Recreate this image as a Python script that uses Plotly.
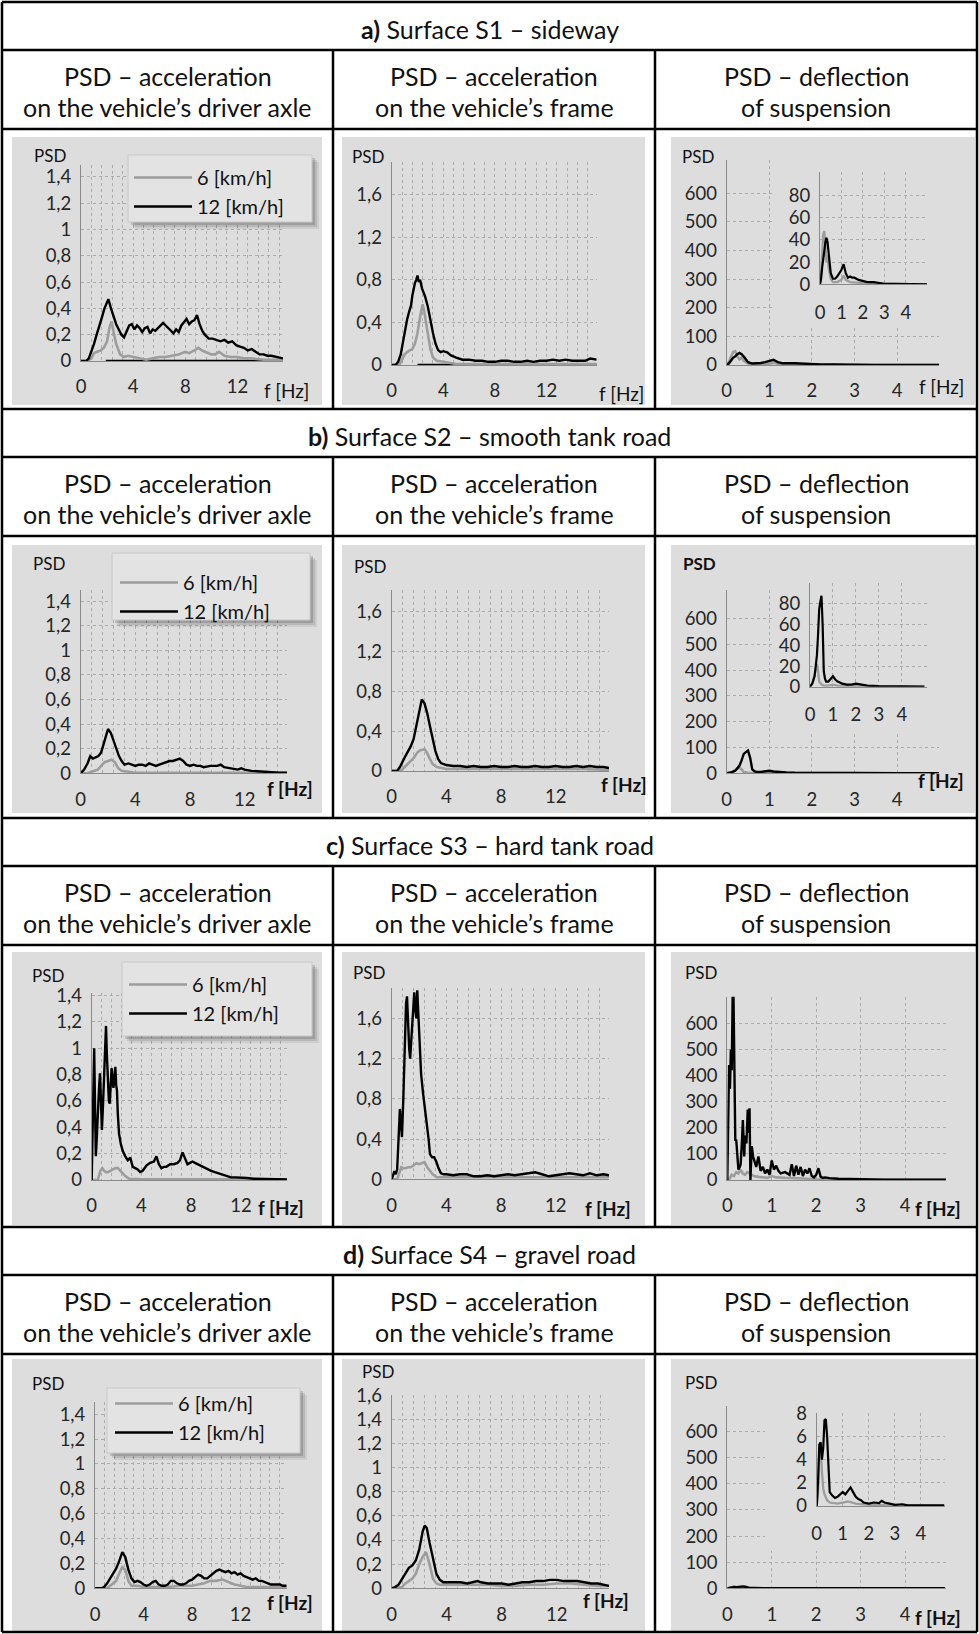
import plotly.graph_objects as go

W, H = 979, 1634
FONT = "Lato, 'Noto Sans', sans-serif"
INK = "#111111"
TICK_INK = "#262626"
GRAY_LINE = "#9d9d9d"
BLACK_LINE = "#000000"
PANEL = "#dddddd"
GRID = "#ababab"
AXIS = "#8a8a8a"

# ---------------- text ----------------
ROW_LABELS = ["a)", "b)", "c)", "d)"]
ROW_TITLES = ["Surface S1 – sideway", "Surface S2 – smooth tank road",
              "Surface S3 – hard tank road", "Surface S4 – gravel road"]
COL_HEADERS = [("PSD – acceleration", "on the vehicle’s driver axle"),
               ("PSD – acceleration", "on the vehicle’s frame"),
               ("PSD – deflection", "of suspension")]
SERIES_NAMES = ["6 [km/h]", "12 [km/h]"]

# ---------------- tick labels ----------------
ACC_Y_FINE_VALS = [0, 0.2, 0.4, 0.6, 0.8, 1.0, 1.2, 1.4]
ACC_Y_FINE_TEXT = ["0", "0,2", "0,4", "0,6", "0,8", "1", "1,2", "1,4"]
ACC_Y_COARSE_VALS = [0, 0.4, 0.8, 1.2, 1.6]
ACC_Y_COARSE_TEXT = ["0", "0,4", "0,8", "1,2", "1,6"]
D2_Y_VALS = [0, 0.2, 0.4, 0.6, 0.8, 1.0, 1.2, 1.4, 1.6]
D2_Y_TEXT = ["0", "0,2", "0,4", "0,6", "0,8", "1", "1,2", "1,4", "1,6"]
DEF_Y_VALS = [0, 100, 200, 300, 400, 500, 600]
DEF_Y_TEXT = ["0", "100", "200", "300", "400", "500", "600"]
INSET_Y_VALS = [0, 20, 40, 60, 80]
INSET_Y_TEXT = ["0", "20", "40", "60", "80"]
INSET_D_Y_VALS = [0, 2, 4, 6, 8]
INSET_D_Y_TEXT = ["0", "2", "4", "6", "8"]
DEF_X_VALS = [0, 1, 2, 3, 4]
DEF_X_TEXT = ["0", "1", "2", "3", "4"]

# ---------------- data (f [Hz], PSD) ----------------
A1_6 = [(0, 0), (0.5, 0), (0.8, 0.02), (1.0, 0.06), (1.25, 0.07), (1.5, 0.08), (1.75, 0.1), (2.0, 0.15),
        (2.2, 0.26), (2.35, 0.3), (2.5, 0.22), (2.7, 0.13), (3.0, 0.05), (3.3, 0.03), (3.6, 0.04), (4.0, 0.03),
        (4.5, 0.02), (5.0, 0.01), (5.5, 0.02), (6.0, 0.03), (6.5, 0.03), (7.0, 0.04), (7.5, 0.05), (8.0, 0.07),
        (8.3, 0.06), (8.7, 0.08), (9.0, 0.1), (9.3, 0.08), (9.7, 0.06), (10.0, 0.05), (10.3, 0.05), (10.6, 0.07),
        (11.0, 0.04), (11.5, 0.03), (12.0, 0.03), (12.5, 0.02), (13.0, 0.02), (14.0, 0.01), (15.0, 0.01), (15.5, 0.01)]
A1_12 = [(0, 0), (0.4, 0), (0.6, 0.02), (0.8, 0.07), (1.0, 0.13), (1.2, 0.2), (1.4, 0.26), (1.6, 0.33), (1.8, 0.4),
         (2.0, 0.45), (2.1, 0.47), (2.3, 0.4), (2.5, 0.33), (2.7, 0.28), (2.9, 0.24), (3.1, 0.2), (3.3, 0.18),
         (3.5, 0.22), (3.7, 0.27), (3.9, 0.28), (4.1, 0.24), (4.3, 0.27), (4.5, 0.25), (4.7, 0.22), (4.9, 0.25),
         (5.1, 0.26), (5.3, 0.21), (5.5, 0.24), (5.7, 0.23), (5.9, 0.25), (6.1, 0.27), (6.3, 0.29), (6.5, 0.27),
         (6.7, 0.25), (6.9, 0.23), (7.1, 0.21), (7.3, 0.24), (7.5, 0.22), (7.7, 0.27), (7.9, 0.3), (8.1, 0.32),
         (8.3, 0.28), (8.5, 0.3), (8.7, 0.31), (8.9, 0.35), (9.1, 0.28), (9.3, 0.23), (9.5, 0.2), (9.8, 0.17),
         (10.1, 0.17), (10.4, 0.16), (10.7, 0.15), (11.0, 0.16), (11.3, 0.14), (11.6, 0.15), (11.9, 0.12),
         (12.2, 0.11), (12.5, 0.1), (12.8, 0.08), (13.1, 0.09), (13.4, 0.07), (13.7, 0.05), (14.0, 0.05),
         (14.3, 0.04), (14.6, 0.04), (15.0, 0.03), (15.5, 0.02)]
A1_ZERO = [(1.9, 0), (15.5, 0)]

A2_6 = [(0, 0), (0.6, 0), (0.8, 0.05), (1.0, 0.1), (1.3, 0.13), (1.6, 0.15), (1.8, 0.2), (2.0, 0.3), (2.2, 0.45),
        (2.4, 0.57), (2.5, 0.52), (2.6, 0.44), (2.8, 0.3), (3.0, 0.15), (3.2, 0.07), (3.5, 0.04), (4.0, 0.03),
        (4.5, 0.02), (5.0, 0.01), (6.0, 0.01), (8.0, 0.01), (10.0, 0.01), (12.0, 0.01), (14.0, 0.01), (15.9, 0.01)]
A2_12 = [(0, 0), (0.3, 0), (0.5, 0.03), (0.7, 0.1), (0.85, 0.2), (1.0, 0.3), (1.1, 0.4), (1.2, 0.43), (1.35, 0.5),
         (1.5, 0.56), (1.6, 0.65), (1.7, 0.72), (1.8, 0.77), (1.9, 0.8), (2.0, 0.84), (2.1, 0.78), (2.2, 0.8),
         (2.35, 0.72), (2.5, 0.68), (2.6, 0.64), (2.8, 0.55), (3.0, 0.42), (3.2, 0.3), (3.4, 0.2), (3.6, 0.14),
         (3.8, 0.12), (4.0, 0.13), (4.3, 0.12), (4.6, 0.09), (5.0, 0.07), (5.5, 0.05), (6.0, 0.05), (6.5, 0.04),
         (7.0, 0.04), (7.5, 0.03), (8.0, 0.03), (8.5, 0.04), (9.0, 0.04), (9.5, 0.03), (10.0, 0.03), (10.5, 0.04),
         (11.0, 0.03), (11.5, 0.04), (12.0, 0.04), (12.5, 0.05), (13.0, 0.04), (13.5, 0.05), (14.0, 0.04),
         (14.5, 0.04), (15.0, 0.04), (15.4, 0.06), (15.9, 0.05)]
A2_ZERO = [(2.0, 0), (15.9, 0)]

A3_6 = [(0, 0), (0.05, 10), (0.1, 28), (0.15, 45), (0.2, 48), (0.25, 30), (0.3, 20), (0.35, 26), (0.4, 15),
        (0.5, 5), (0.6, 2), (0.8, 2), (1.0, 4), (1.1, 8), (1.2, 4), (1.4, 2), (1.6, 1.5), (2.0, 1), (2.5, 0.5),
        (3.0, 0.2), (4.0, 0.1), (4.98, 0)]
A3_12 = [(0, 0), (0.05, 5), (0.1, 15), (0.15, 25), (0.2, 30), (0.25, 38), (0.3, 42), (0.35, 38), (0.4, 30),
         (0.45, 20), (0.5, 10), (0.6, 5), (0.7, 5), (0.8, 7), (0.9, 10), (1.0, 13), (1.05, 16), (1.1, 18),
         (1.15, 14), (1.2, 10), (1.3, 6), (1.4, 7), (1.5, 6), (1.6, 6), (1.8, 4), (2.0, 3), (2.2, 2), (2.5, 2),
         (2.8, 1), (3.0, 0.5), (3.5, 0.3), (4.0, 0.2), (4.98, 0)]

B1_6 = [(0, 0), (0.5, 0), (0.75, 0.01), (1.0, 0.02), (1.25, 0.03), (1.5, 0.06), (1.75, 0.09), (2.0, 0.1),
        (2.25, 0.11), (2.5, 0.09), (2.75, 0.04), (3.0, 0.02), (3.5, 0.01), (4.0, 0.005), (6.0, 0.005),
        (8.0, 0.005), (10.0, 0.005), (12.0, 0.005), (15.1, 0.005)]
B1_12 = [(0, 0), (0.25, 0.03), (0.5, 0.08), (0.7, 0.14), (0.9, 0.12), (1.1, 0.13), (1.3, 0.14), (1.5, 0.17),
         (1.75, 0.27), (2.0, 0.36), (2.2, 0.33), (2.4, 0.27), (2.6, 0.2), (2.8, 0.14), (3.0, 0.1), (3.2, 0.07),
         (3.5, 0.08), (3.75, 0.07), (4.0, 0.06), (4.25, 0.07), (4.5, 0.07), (4.75, 0.06), (5.0, 0.08), (5.25, 0.07),
         (5.5, 0.06), (5.75, 0.07), (6.0, 0.08), (6.25, 0.09), (6.5, 0.1), (6.75, 0.1), (7.0, 0.11), (7.25, 0.12),
         (7.5, 0.1), (7.75, 0.07), (8.0, 0.06), (8.25, 0.07), (8.5, 0.06), (8.75, 0.06), (9.0, 0.05), (9.5, 0.06),
         (10.0, 0.06), (10.25, 0.07), (10.5, 0.05), (11.0, 0.04), (11.5, 0.03), (11.75, 0.04), (12.0, 0.03),
         (12.5, 0.02), (13.0, 0.015), (13.5, 0.01), (14.0, 0.01), (14.5, 0.005), (15.1, 0.005)]

B2_6 = [(0, 0), (0.6, 0), (0.8, 0.02), (1.0, 0.05), (1.3, 0.09), (1.6, 0.13), (1.9, 0.19), (2.1, 0.21),
        (2.4, 0.22), (2.6, 0.18), (2.8, 0.12), (3.0, 0.07), (3.3, 0.04), (3.6, 0.03), (4.0, 0.02), (5.0, 0.02),
        (6.0, 0.02), (8.0, 0.02), (10.0, 0.02), (12.0, 0.02), (14.0, 0.02), (15.9, 0.01)]
B2_12 = [(0, 0), (0.4, 0), (0.6, 0.04), (0.8, 0.1), (1.0, 0.15), (1.2, 0.2), (1.4, 0.25), (1.6, 0.32), (1.8, 0.45),
         (2.0, 0.6), (2.2, 0.72), (2.4, 0.68), (2.6, 0.58), (2.8, 0.45), (3.0, 0.32), (3.2, 0.2), (3.4, 0.12),
         (3.6, 0.08), (4.0, 0.06), (4.5, 0.05), (5.0, 0.05), (5.5, 0.04), (6.0, 0.05), (6.5, 0.04), (7.0, 0.04),
         (7.5, 0.05), (8.0, 0.04), (8.5, 0.04), (9.0, 0.05), (9.5, 0.04), (10.0, 0.04), (10.5, 0.05), (11.0, 0.04),
         (11.5, 0.04), (12.0, 0.05), (12.5, 0.04), (13.0, 0.04), (13.5, 0.05), (14.0, 0.04), (14.5, 0.05),
         (15.0, 0.04), (15.5, 0.04), (15.9, 0.03)]

B3_6 = [(0, 0), (0.1, 3), (0.2, 12), (0.25, 18), (0.3, 22), (0.35, 15), (0.4, 5), (0.5, 2), (0.6, 1), (0.8, 1),
        (1.0, 2), (1.2, 1), (1.5, 0.8), (2.0, 0.5), (3.0, 0.2), (4.0, 0.1), (4.98, 0)]
B3_12 = [(0, 0), (0.1, 3), (0.2, 10), (0.3, 30), (0.35, 50), (0.4, 75), (0.45, 82), (0.5, 88), (0.55, 60),
         (0.6, 15), (0.65, 8), (0.7, 5), (0.8, 5), (0.9, 8), (1.0, 10), (1.1, 7), (1.2, 5), (1.3, 4), (1.4, 3),
         (1.6, 2), (1.8, 2), (2.0, 3), (2.2, 2), (2.5, 1), (3.0, 0.5), (4.0, 0.3), (4.98, 0)]

C1_6 = [(0, 0), (0.5, 0), (0.6, 0.04), (0.7, 0.07), (0.85, 0.09), (1.0, 0.07), (1.15, 0.06), (1.3, 0.06),
        (1.5, 0.07), (1.7, 0.08), (1.9, 0.09), (2.1, 0.09), (2.3, 0.07), (2.5, 0.05), (2.7, 0.03), (3.0, 0.01),
        (3.5, 0.005), (4.0, 0.005), (6.0, 0.005), (8.0, 0.005), (10.0, 0.005), (12.0, 0.005), (15.7, 0.005)]
C1_12 = [(0, 0), (0.05, 0.3), (0.12, 0.68), (0.2, 1.0), (0.27, 0.55), (0.33, 0.18), (0.4, 0.3), (0.5, 0.56),
         (0.6, 0.72), (0.67, 0.81), (0.75, 0.55), (0.82, 0.38), (0.9, 0.55), (1.0, 0.76), (1.08, 1.0), (1.15, 1.17),
         (1.22, 0.95), (1.3, 0.75), (1.38, 0.6), (1.45, 0.58), (1.52, 0.72), (1.6, 0.85), (1.68, 0.76), (1.75, 0.7),
         (1.82, 0.78), (1.9, 0.86), (1.97, 0.72), (2.03, 0.68), (2.1, 0.5), (2.2, 0.35), (2.35, 0.27), (2.5, 0.22),
         (2.7, 0.18), (2.9, 0.15), (3.1, 0.17), (3.3, 0.1), (3.5, 0.09), (3.7, 0.08), (3.9, 0.06), (4.1, 0.07),
         (4.4, 0.11), (4.7, 0.13), (5.0, 0.14), (5.2, 0.18), (5.4, 0.12), (5.6, 0.09), (5.8, 0.1), (6.0, 0.1),
         (6.3, 0.12), (6.6, 0.12), (6.9, 0.13), (7.1, 0.15), (7.3, 0.21), (7.5, 0.16), (7.7, 0.12), (7.9, 0.13),
         (8.1, 0.14), (8.3, 0.13), (8.5, 0.12), (8.7, 0.11), (9.0, 0.1), (9.3, 0.08), (9.6, 0.07), (9.9, 0.06),
         (10.2, 0.05), (10.5, 0.04), (10.8, 0.03), (11.2, 0.02), (11.6, 0.02), (12.0, 0.02), (12.5, 0.015),
         (13.0, 0.01), (13.5, 0.01), (14.0, 0.01), (14.5, 0.008), (15.0, 0.006), (15.7, 0.005)]

C2_6 = [(0, 0), (0.4, 0), (0.5, 0.04), (0.6, 0.09), (0.7, 0.12), (0.85, 0.11), (1.0, 0.11), (1.2, 0.12),
        (1.4, 0.12), (1.6, 0.14), (1.8, 0.16), (2.0, 0.15), (2.2, 0.16), (2.4, 0.17), (2.6, 0.12), (2.8, 0.08),
        (3.0, 0.05), (3.3, 0.02), (3.7, 0.02), (4.0, 0.02), (5.0, 0.02), (6.0, 0.02), (7.0, 0.02), (8.0, 0.02),
        (9.0, 0.02), (10.0, 0.02), (11.0, 0.02), (12.0, 0.02), (13.0, 0.02), (14.0, 0.02), (15.0, 0.02), (15.9, 0.02)]
C2_12 = [(0, 0), (0.1, 0.05), (0.2, 0.08), (0.3, 0.05), (0.4, 0.1), (0.5, 0.4), (0.6, 0.7), (0.68, 0.55),
         (0.75, 0.42), (0.85, 0.8), (0.95, 1.3), (1.05, 1.75), (1.12, 1.82), (1.2, 1.5), (1.28, 1.3), (1.35, 1.2),
         (1.42, 1.35), (1.5, 1.55), (1.58, 1.7), (1.65, 1.86), (1.72, 1.7), (1.8, 1.6), (1.87, 1.88), (1.95, 1.6),
         (2.05, 1.3), (2.15, 1.05), (2.3, 0.85), (2.45, 0.7), (2.6, 0.55), (2.7, 0.4), (2.8, 0.25), (2.95, 0.22),
         (3.1, 0.22), (3.25, 0.18), (3.4, 0.12), (3.6, 0.06), (3.8, 0.05), (4.0, 0.05), (4.5, 0.04), (5.0, 0.05),
         (5.5, 0.05), (6.0, 0.03), (6.5, 0.03), (7.0, 0.04), (7.5, 0.03), (8.0, 0.04), (8.5, 0.05), (9.0, 0.04),
         (9.5, 0.05), (10.0, 0.06), (10.5, 0.07), (11.0, 0.05), (11.5, 0.03), (12.0, 0.04), (12.5, 0.05),
         (13.0, 0.06), (13.5, 0.05), (14.0, 0.04), (14.5, 0.06), (15.0, 0.04), (15.5, 0.05), (15.9, 0.04)]

C3_6 = [(0, 0), (0.05, 5), (0.1, 20), (0.15, 15), (0.2, 30), (0.25, 25), (0.3, 40), (0.35, 25), (0.4, 20),
        (0.45, 30), (0.5, 25), (0.6, 15), (0.7, 12), (0.8, 10), (0.9, 8), (1.0, 15), (1.1, 10), (1.3, 8),
        (1.5, 8), (1.7, 6), (2.0, 3), (2.5, 2), (3.0, 1), (4.0, 0.5), (4.92, 0.5)]
C3_12 = [(0, 0), (0.02, 200), (0.04, 440), (0.06, 350), (0.08, 500), (0.1, 420), (0.12, 700), (0.14, 700),
         (0.16, 300), (0.18, 150), (0.2, 155), (0.22, 100), (0.25, 40), (0.28, 50), (0.3, 60), (0.33, 150),
         (0.35, 230), (0.38, 90), (0.4, 170), (0.43, 140), (0.46, 270), (0.48, 180), (0.5, 275), (0.52, 0),
         (0.55, 130), (0.58, 90), (0.6, 75), (0.65, 50), (0.7, 90), (0.75, 35), (0.8, 50), (0.85, 25), (0.9, 40),
         (0.95, 20), (1.0, 75), (1.05, 40), (1.1, 55), (1.15, 35), (1.2, 25), (1.3, 30), (1.4, 20), (1.45, 60),
         (1.5, 15), (1.55, 55), (1.6, 20), (1.65, 50), (1.7, 15), (1.75, 40), (1.8, 25), (1.85, 45), (1.9, 15),
         (1.95, 10), (2.0, 20), (2.05, 45), (2.1, 12), (2.15, 8), (2.2, 10), (2.3, 7), (2.5, 5), (2.7, 4),
         (3.0, 2), (3.5, 1), (4.0, 1), (4.92, 1)]

D1_6 = [(0, 0), (1.0, 0), (1.25, 0.02), (1.5, 0.04), (1.75, 0.06), (2.0, 0.12), (2.25, 0.17), (2.5, 0.15),
        (2.75, 0.06), (3.0, 0.02), (3.5, 0.02), (4.0, 0.01), (5.0, 0.01), (6.0, 0.01), (7.0, 0.02), (8.0, 0.02),
        (8.5, 0.03), (9.0, 0.04), (9.5, 0.06), (10.0, 0.06), (10.5, 0.07), (11.0, 0.05), (11.5, 0.03),
        (12.0, 0.02), (12.5, 0.01), (13.0, 0.01), (14.0, 0.01), (15.0, 0.01), (15.8, 0.01)]
D1_12 = [(0, 0), (0.5, 0), (0.75, 0.01), (1.0, 0.04), (1.25, 0.08), (1.5, 0.12), (1.75, 0.16), (2.0, 0.22),
         (2.25, 0.29), (2.5, 0.25), (2.75, 0.15), (3.0, 0.08), (3.25, 0.05), (3.5, 0.06), (3.75, 0.05), (4.0, 0.03),
         (4.25, 0.02), (4.5, 0.03), (4.75, 0.05), (5.0, 0.06), (5.25, 0.03), (5.5, 0.02), (5.75, 0.02), (6.0, 0.03),
         (6.25, 0.06), (6.5, 0.06), (6.75, 0.04), (7.0, 0.03), (7.25, 0.03), (7.5, 0.04), (7.75, 0.06), (8.0, 0.07),
         (8.25, 0.09), (8.5, 0.11), (8.75, 0.1), (9.0, 0.08), (9.25, 0.08), (9.5, 0.1), (9.75, 0.12), (10.0, 0.14),
         (10.25, 0.15), (10.5, 0.14), (10.75, 0.13), (11.0, 0.14), (11.25, 0.12), (11.5, 0.13), (11.75, 0.11),
         (12.0, 0.12), (12.25, 0.1), (12.5, 0.09), (12.75, 0.08), (13.0, 0.07), (13.25, 0.08), (13.5, 0.06),
         (13.75, 0.06), (14.0, 0.05), (14.25, 0.04), (14.5, 0.03), (14.75, 0.03), (15.0, 0.03), (15.25, 0.03),
         (15.5, 0.02), (15.8, 0.02)]

D2_6 = [(0, 0), (0.75, 0.01), (1.0, 0.04), (1.25, 0.06), (1.5, 0.08), (1.75, 0.12), (2.0, 0.2), (2.25, 0.26),
        (2.5, 0.3), (2.75, 0.2), (3.0, 0.08), (3.25, 0.04), (3.5, 0.03), (4.0, 0.03), (5.0, 0.03), (6.0, 0.03),
        (7.0, 0.03), (8.0, 0.02), (9.0, 0.02), (10.0, 0.03), (11.0, 0.03), (12.0, 0.04), (13.0, 0.04),
        (14.0, 0.03), (15.0, 0.02), (15.8, 0.02)]
D2_12 = [(0, 0), (0.25, 0.01), (0.5, 0.03), (0.75, 0.08), (1.0, 0.12), (1.25, 0.17), (1.5, 0.19), (1.75, 0.23),
         (2.0, 0.32), (2.25, 0.47), (2.4, 0.52), (2.55, 0.5), (2.75, 0.38), (3.0, 0.25), (3.25, 0.12), (3.5, 0.07),
         (3.75, 0.05), (4.0, 0.05), (4.5, 0.05), (5.0, 0.05), (5.5, 0.04), (6.0, 0.05), (6.25, 0.06), (6.5, 0.05),
         (7.0, 0.04), (7.5, 0.04), (8.0, 0.04), (8.5, 0.03), (9.0, 0.04), (9.5, 0.05), (10.0, 0.05), (10.5, 0.06),
         (11.0, 0.06), (11.5, 0.07), (12.0, 0.07), (12.5, 0.06), (13.0, 0.06), (13.5, 0.06), (14.0, 0.05),
         (14.5, 0.04), (15.0, 0.04), (15.5, 0.03), (15.8, 0.02)]

D3_6 = [(0, 0), (0.05, 1), (0.1, 4.5), (0.15, 5.5), (0.2, 3), (0.25, 1.5), (0.3, 1), (0.4, 0.5), (0.5, 0.3),
        (0.8, 0.2), (1.0, 0.3), (1.2, 0.4), (1.5, 0.2), (2.0, 0.1), (3.0, 0.05), (4.9, 0)]
D3_12 = [(0, 0), (0.05, 2), (0.1, 5.3), (0.15, 5.5), (0.2, 4), (0.25, 5), (0.3, 7.4), (0.35, 7.5), (0.4, 6),
         (0.45, 3), (0.5, 1.2), (0.6, 0.9), (0.7, 0.7), (0.8, 0.8), (0.9, 1), (1.0, 1.2), (1.1, 1), (1.2, 1.3),
         (1.3, 1.6), (1.4, 1.2), (1.5, 0.8), (1.6, 0.6), (1.7, 0.5), (1.8, 0.3), (2.0, 0.2), (2.2, 0.3),
         (2.4, 0.25), (2.5, 0.45), (2.6, 0.3), (2.8, 0.2), (3.0, 0.1), (3.3, 0.15), (3.5, 0.05), (4.0, 0.05),
         (4.9, 0.05)]

# ---------------- layout geometry (pixels) ----------------
BLOCK_TOPS = [2, 409, 818, 1227]
TABLE_X = (2, 977)
TABLE_BOTTOM = 1632
COL_X = [2, 333, 655, 977]
PANEL_X = [(12, 322), (342, 645), (671, 975)]
PANEL_Y = [(137, 405), (545, 813), (952, 1225), (1359, 1631)]

CHARTS = [
    dict(n=1, data=(A1_6, A1_12), zero=A1_ZERO, box=(81, 283, 165, 361), xr=15.5, yr=1.49, kind="acc",
         yt=(ACC_Y_FINE_VALS, ACC_Y_FINE_TEXT), legend="legend", psd=(50, 155, False), fhz=(286, 390, False)),
    dict(n=2, data=(A2_6, A2_12), zero=A2_ZERO, box=(391.7, 596.7, 161.7, 365), xr=15.9, yr=1.91, kind="acc",
         yt=(ACC_Y_COARSE_VALS, ACC_Y_COARSE_TEXT), psd=(368, 157, False), fhz=(621, 393, False)),
    dict(n=3, data=(A3_6, A3_12), box=(726.7, 939, 160, 365), xr=4.98, yr=716, kind="def",
         yt=(DEF_Y_VALS, DEF_Y_TEXT), psd=(698, 157, False), fhz=(941, 387, False)),
    dict(n=4, data=(B1_6, B1_12), box=(80.7, 287, 590, 773.3), xr=15.1, yr=1.49, kind="acc",
         yt=(ACC_Y_FINE_VALS, ACC_Y_FINE_TEXT), legend="legend2", psd=(49, 563, False), fhz=(290, 788, True)),
    dict(n=5, data=(B2_6, B2_12), box=(391.7, 609, 590, 771), xr=15.9, yr=1.82, kind="acc",
         yt=(ACC_Y_COARSE_VALS, ACC_Y_COARSE_TEXT), psd=(370, 566, False), fhz=(624, 784, True)),
    dict(n=6, data=(B3_6, B3_12), box=(726.7, 939, 590, 773.3), xr=4.98, yr=710, kind="def",
         yt=(DEF_Y_VALS, DEF_Y_TEXT), psd=(699, 563, True), fhz=(941, 780, True)),
    dict(n=7, data=(C1_6, C1_12), box=(91.7, 287, 993, 1180), xr=15.7, yr=1.42, kind="acc",
         yt=(ACC_Y_FINE_VALS, ACC_Y_FINE_TEXT), legend="legend3", psd=(48, 975, False), fhz=(281, 1207, True)),
    dict(n=8, data=(C2_6, C2_12), box=(391.7, 609, 988.3, 1179.3), xr=15.9, yr=1.9, kind="acc",
         yt=(ACC_Y_COARSE_VALS, ACC_Y_COARSE_TEXT), psd=(369, 973, False), fhz=(608, 1208, True)),
    dict(n=9, data=(C3_6, C3_12), box=(727.3, 946, 996.7, 1180), xr=4.92, yr=702, kind="def",
         yt=(DEF_Y_VALS, DEF_Y_TEXT), psd=(701, 973, False), fhz=(938, 1208, True)),
    dict(n=10, data=(D1_6, D1_12), box=(95, 286.7, 1401.7, 1588.3), xr=15.8, yr=1.5, kind="acc",
         yt=(ACC_Y_FINE_VALS, ACC_Y_FINE_TEXT), legend="legend4", psd=(48, 1383, False), fhz=(290, 1602, True)),
    dict(n=11, data=(D2_6, D2_12), box=(391.7, 609, 1395, 1588.3), xr=15.8, yr=1.601, kind="acc",
         yt=(D2_Y_VALS, D2_Y_TEXT), psd=(378, 1371, False), fhz=(606, 1600, True)),
    dict(n=12, data=(D3_6, D3_12), box=(727.3, 946, 1406, 1588.3), xr=4.92, yr=698, kind="def",
         yt=(DEF_Y_VALS, DEF_Y_TEXT), psd=(701, 1382, False), fhz=(938, 1617, True)),
]

INSETS = [
    dict(mask_n=13, n=14, data=(A3_6, A3_12), mask=(773, 962, 160, 326), box=(820, 927, 172.3, 284.3),
         xr=4.98, yr=101, yt=(INSET_Y_VALS, INSET_Y_TEXT)),
    dict(mask_n=15, n=16, data=(B3_6, B3_12), mask=(772, 962, 575, 731), box=(810, 926.7, 583.3, 686.7),
         xr=5.08, yr=100, yt=(INSET_Y_VALS, INSET_Y_TEXT)),
    dict(mask_n=17, n=18, data=(D3_6, D3_12), mask=(765, 960, 1400, 1551), box=(816.7, 945, 1412.7, 1506),
         xr=4.93, yr=8.05, yt=(INSET_D_Y_VALS, INSET_D_Y_TEXT)),
]

LEGEND_BOX = {"legend": (128, 312, 155, 222), "legend2": (112, 310, 553, 620),
              "legend3": (122, 312, 962, 1036), "legend4": (107, 300, 1388, 1453)}
LEGEND_POS = {"legend": (129, 158), "legend2": (115, 563), "legend3": (124, 965), "legend4": (110, 1384)}

TEXT_SIZE = 25
TICK_SIZE = 18.5


def xd(a, b):
    return [a / W, b / W]


def yd(top, bot):
    return [1 - bot / H, 1 - top / H]


def axkey(letter, n):
    return f"{letter}axis" if n == 1 else f"{letter}axis{n}"


def axref(letter, n):
    return letter if n == 1 else f"{letter}{n}"


def unzip(pairs):
    return [p[0] for p in pairs], [p[1] for p in pairs]


def base_axis():
    return dict(showline=True, linecolor=AXIS, linewidth=1, zeroline=False, showgrid=True,
                gridcolor=GRID, gridwidth=1, griddash="dot", ticks="", automargin=False,
                tickfont=dict(family=FONT, size=TICK_SIZE, color=TICK_INK), fixedrange=True)


fig = go.Figure()
layout = dict(width=W, height=H, autosize=False,
              margin=dict(l=0, r=0, t=0, b=0, pad=0, autoexpand=False), paper_bgcolor="white",
              plot_bgcolor=PANEL, separators=", ", showlegend=True, hovermode=False)
shapes = []
annotations = []


def ann(text, x, y, size, xanchor="center", yanchor="middle", color=INK):
    return dict(text=text, x=x / W, y=1 - y / H, xref="paper", yref="paper", showarrow=False,
                xanchor=xanchor, yanchor=yanchor, font=dict(family=FONT, size=size, color=color))


def add_series(n, data, legend=None, widths=(2.6, 2.4)):
    for i, (pairs, color) in enumerate(zip(data, (GRAY_LINE, BLACK_LINE))):
        f, v = unzip(pairs)
        kw = dict(showlegend=False)
        if legend:
            kw = dict(showlegend=True, legend=legend)
        fig.add_trace(go.Scatter(x=f, y=v, mode="lines", name=SERIES_NAMES[i],
                                 line=dict(color=color, width=widths[i]),
                                 xaxis=axref("x", n), yaxis=axref("y", n), **kw))


def rect(x0, x1, yt, yb, fill, layer="above", line=None):
    return dict(type="rect", xref="paper", yref="paper", x0=x0 / W, x1=x1 / W, y0=1 - yb / H, y1=1 - yt / H,
                line=line or dict(width=0), fillcolor=fill, layer=layer)


# panels
for (py0, py1) in PANEL_Y:
    for (px0, px1) in PANEL_X:
        shapes.append(rect(px0, px1, py0, py1, PANEL, layer="below"))

# main charts
for c in CHARTS:
    n = c["n"]
    x0, x1, yt, yb = c["box"]
    xa = base_axis()
    xa.update(domain=xd(x0, x1), range=[0, c["xr"]], anchor=axref("y", n), ticklabelstandoff=9)
    if c["kind"] == "acc":
        xa.update(tickmode="linear", tick0=0, dtick=4,
                  minor=dict(tickmode="linear", tick0=0, dtick=0.8, showgrid=True, gridcolor=GRID,
                             gridwidth=1, griddash="dot"))
    else:
        xa.update(tickmode="array", tickvals=DEF_X_VALS, ticktext=DEF_X_TEXT)
    ya = base_axis()
    ya.update(domain=yd(yt, yb), range=[0, c["yr"]], anchor=axref("x", n), tickmode="array",
              tickvals=c["yt"][0], ticktext=c["yt"][1], ticklabelstandoff=5)
    layout[axkey("x", n)] = xa
    layout[axkey("y", n)] = ya
    if "zero" in c:
        f, v = unzip(c["zero"])
        fig.add_trace(go.Scatter(x=f, y=v, mode="lines", line=dict(color=BLACK_LINE, width=2.6),
                                 xaxis=axref("x", n), yaxis=axref("y", n), showlegend=False))
    add_series(n, c["data"], legend=c.get("legend"))
    px, py, bold = c["psd"]
    annotations.append(ann("<b>PSD</b>" if bold else "PSD", px, py, 17))
    fx, fy, fbold = c["fhz"]
    annotations.append(ann("<b>f [Hz]</b>" if fbold else "f [Hz]", fx, fy, 19))

# insets
for s in INSETS:
    m = s["mask_n"]
    mx0, mx1, myt, myb = s["mask"]
    layout[axkey("x", m)] = dict(domain=xd(mx0, mx1), range=[0, 1], visible=False, anchor=axref("y", m),
                                 fixedrange=True, showgrid=False, zeroline=False, automargin=False)
    layout[axkey("y", m)] = dict(domain=yd(myt, myb), range=[0, 1], visible=False, anchor=axref("x", m),
                                 fixedrange=True, showgrid=False, zeroline=False, automargin=False)
    fig.add_trace(go.Scatter(x=[0.5], y=[-5], mode="lines", showlegend=False,
                             xaxis=axref("x", m), yaxis=axref("y", m)))
    n = s["n"]
    x0, x1, yt, yb = s["box"]
    xa = base_axis()
    xa.update(domain=xd(x0, x1), range=[0, s["xr"]], anchor=axref("y", n), tickmode="array",
              tickvals=DEF_X_VALS, ticktext=DEF_X_TEXT, ticklabelstandoff=11)
    ya = base_axis()
    ya.update(domain=yd(yt, yb), range=[0, s["yr"]], anchor=axref("x", n), tickmode="array",
              tickvals=s["yt"][0], ticktext=s["yt"][1], ticklabelstandoff=5)
    layout[axkey("x", n)] = xa
    layout[axkey("y", n)] = ya
    add_series(n, s["data"], widths=(2.3, 2.2))

# legends: box + soft shadow drawn as shapes, legend items on top
for key in LEGEND_BOX:
    bx0, bx1, byt, byb = LEGEND_BOX[key]
    for off, alpha in ((7, 0.07), (5, 0.10), (3, 0.14)):
        shapes.append(rect(bx0 + off, bx1 + off, byt + off, byb + off, f"rgba(0,0,0,{alpha})"))
    shapes.append(rect(bx0, bx1, byt, byb, "#e3e3e3", line=dict(color="#c9c9c9", width=1)))
    lx, ly = LEGEND_POS[key]
    layout[key] = dict(x=lx / W, y=1 - ly / H, xref="paper", yref="paper", xanchor="left", yanchor="top",
                       bgcolor="rgba(0,0,0,0)", borderwidth=0, itemwidth=58,
                       tracegroupgap=0, font=dict(family=FONT, size=20, color=INK))

# table lines
LW = 2.5


def hline(y, xa=TABLE_X[0], xb=TABLE_X[1]):
    shapes.append(dict(type="line", xref="paper", yref="paper", x0=xa / W, x1=xb / W, y0=1 - y / H,
                       y1=1 - y / H, line=dict(color="black", width=LW), layer="above"))


def vline(x, ya, yb):
    shapes.append(dict(type="line", xref="paper", yref="paper", x0=x / W, x1=x / W, y0=1 - ya / H,
                       y1=1 - yb / H, line=dict(color="black", width=LW), layer="above"))


vline(TABLE_X[0], 2, TABLE_BOTTOM)
vline(TABLE_X[1], 2, TABLE_BOTTOM)
hline(TABLE_BOTTOM)
bottoms = BLOCK_TOPS[1:] + [TABLE_BOTTOM]
for r, T in enumerate(BLOCK_TOPS):
    hline(T)
    hline(T + 48)
    hline(T + 127)
    for cx in COL_X[1:3]:
        vline(cx, T + 48, bottoms[r])
    annotations.append(ann(f"<b>{ROW_LABELS[r]}</b> {ROW_TITLES[r]}", (TABLE_X[0] + TABLE_X[1]) / 2, T + 27,
                           TEXT_SIZE))
    for ci, (l1, l2) in enumerate(COL_HEADERS):
        cxm = (COL_X[ci] + COL_X[ci + 1]) / 2
        annotations.append(ann(l1, cxm, T + 74, TEXT_SIZE))
        annotations.append(ann(l2, cxm, T + 105, TEXT_SIZE))

layout["shapes"] = shapes
layout["annotations"] = annotations
fig.update_layout(**layout)

PIN_TO_CORNER = ("var gd=document.getElementById('{plot_id}');"
                 "gd.style.position='fixed';gd.style.left='0px';gd.style.top='0px';"
                 "document.documentElement.style.margin='0px';document.body.style.margin='0px';"
                 "document.documentElement.style.overflow='hidden';document.body.style.overflow='hidden';")
fig.write_html("out.html", config={"displayModeBar": False, "staticPlot": True}, post_script=PIN_TO_CORNER)
